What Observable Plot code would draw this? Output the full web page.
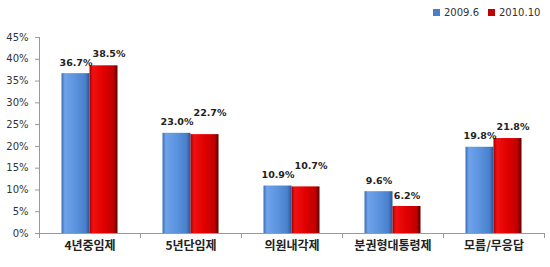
<!DOCTYPE html>
<html><head><meta charset="utf-8">
<script src="https://cdn.jsdelivr.net/npm/d3@7"></script>
<script src="https://cdn.jsdelivr.net/npm/@observablehq/plot@0.6"></script>
<style>
body{margin:0;background:#fff;}
#wrap{position:relative;width:550px;height:267px;}
#legend{height:26px;position:relative;font-family:"DejaVu Sans",sans-serif;font-size:10px;color:#333;}
.li{position:absolute;top:7px;display:flex;align-items:center;}
.sw{width:7px;height:7px;margin-right:4px;}
svg{display:block;}
</style></head>
<body><div id="wrap"><div id="legend"></div><div id="chart"></div></div>
<script>
const categories = ["4년중임제","5년단임제","의원내각제","분권형대통령제","모름/무응답"];
const series = ["2009.6","2010.10"];
const v2009 = [36.7, 23.0, 10.9, 9.6, 19.8];
const v2010 = [38.5, 22.7, 10.7, 6.2, 21.8];
const yTicks = [0,5,10,15,20,25,30,35,40,45];

const W=550,H=241,mL=39,mR=6,mT=11,mB=34;
const band=(W-mL-mR)/categories.length, barW=28, inset=(band-barW)/2;

const blue = categories.map((c,i)=>({c, v:v2009[i]}));
const red = categories.map((c,i)=>{
  const close = Math.abs(v2010[i]-v2009[i]) < 2.8;
  return {c, v:v2010[i], lv: close ? Math.max(v2010[i], v2009[i]+2.1) : v2010[i], pushed: close && v2009[i]+2.1 > v2010[i]};
});
const fmt = d=>d.v.toFixed(1)+"%";
const lab = {fontFamily:"DejaVu Sans", fontWeight:"bold", fontSize:9.5, fill:"#222"};

const plot = Plot.plot({
  width:W, height:H, marginLeft:mL, marginRight:mR, marginTop:mT, marginBottom:mB,
  style:{fontFamily:"DejaVu Sans", background:"#fff"},
  x:{type:"band", domain:categories, padding:0},
  y:{domain:[0,45]},
  marks:[
    Plot.barY(blue,{x:"c", y:"v", fill:"url(#gBlue)", insetLeft:inset, insetRight:inset, dx:-barW/2}),
    Plot.barY(red,{x:"c", y:"v", fill:"url(#gRed)", insetLeft:inset, insetRight:inset, dx:barW/2}),
    Plot.ruleY([0],{stroke:"#999"}),
    Plot.ruleX([categories[0]],{x:d=>d, dx:-band/2, y1:0, y2:45, stroke:"#999"}),
    Plot.ruleX(categories,{x:d=>d, dx:-band/2, y1:0, y2:0, insetBottom:-5, stroke:"#999"}),
    Plot.ruleX([categories[categories.length-1]],{x:d=>d, dx:band/2, y1:0, y2:0, insetBottom:-5, stroke:"#999"}),
    Plot.axisY({ticks:yTicks, tickFormat:d=>d+"%", tickSize:4, tickPadding:7, fontSize:10, fill:"#333", stroke:"#999", label:null}),
    Plot.axisX({tickSize:0, tickPadding:8, fontSize:12, fontWeight:"bold", fontFamily:"'Noto Sans CJK KR'", fill:"#222", label:null}),
    Plot.text(blue,{x:"c", y:"v", text:fmt, dy:-11, dx:-barW/2, ...lab}),
    Plot.text(red.filter(d=>!d.pushed),{x:"c", y:"lv", text:fmt, dy:-11, dx:barW/2, ...lab}),
    Plot.text(red.filter(d=>d.pushed),{x:"c", y:"lv", text:fmt, dy:-11, dx:barW/2+5, ...lab})
  ]
});
const defs = `<defs>
<linearGradient id="gBlue" x1="0" x2="1" y1="0" y2="0">
<stop offset="0" stop-color="#3A6CB3"/><stop offset="0.12" stop-color="#6FA3EA"/><stop offset="0.5" stop-color="#5B93DE"/><stop offset="0.85" stop-color="#4A80CC"/><stop offset="1" stop-color="#2C5596"/></linearGradient>
<linearGradient id="gRed" x1="0" x2="1" y1="0" y2="0">
<stop offset="0" stop-color="#A00000"/><stop offset="0.12" stop-color="#F21010"/><stop offset="0.5" stop-color="#E00000"/><stop offset="0.85" stop-color="#C00000"/><stop offset="1" stop-color="#5A0000"/></linearGradient>
</defs>`;
plot.insertAdjacentHTML("afterbegin", defs);
document.getElementById("chart").appendChild(plot);

const colors = ["#4A7FCC","#C00000"];
const lefts = [433, 488];
const lg = document.getElementById("legend");
series.forEach((s,i)=>{
  const d=document.createElement("div"); d.className="li"; d.style.left=lefts[i]+"px";
  d.innerHTML=`<div class="sw" style="background:${colors[i]}"></div><span>${s}</span>`;
  lg.appendChild(d);
});
</script></body></html>
